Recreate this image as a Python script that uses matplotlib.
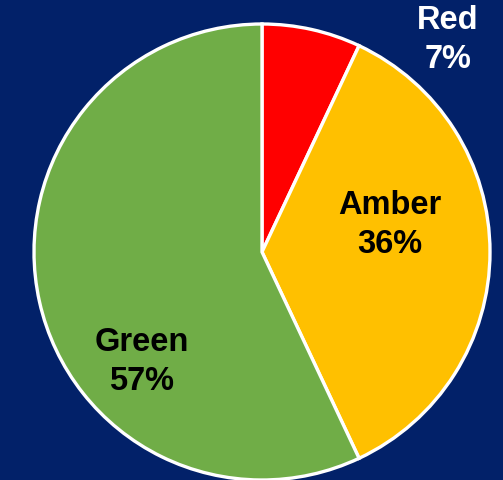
import matplotlib.pyplot as plt

labels = ["Red", "Amber", "Green"]
values = [7, 36, 57]
colors = ["#FF0000", "#FFC000", "#70AD47"]
label_colors = ["white", "black", "black"]

bg = "#022169"
W, H = 503, 481
cx, cy, r = 262, 253, 228

fig = plt.figure(figsize=(W / 100, H / 100), dpi=100, facecolor=bg)
ax = fig.add_axes([0, 0, 1, 1])
ax.set_facecolor(bg)

ax.pie(values, colors=colors, startangle=90, counterclock=False, radius=1,
       wedgeprops=dict(edgecolor="white", linewidth=2.4))

ax.set_xlim(-cx / r, (W - cx) / r)
ax.set_ylim(-(H - cy) / r, cy / r)
ax.set_aspect("equal")
ax.axis("off")

# label positions in pixel space of the picture
label_pos = [(448, 40), (390, 225), (142, 362)]
for lab, v, c, (px, py) in zip(labels, values, label_colors, label_pos):
    ax.text((px - cx) / r, (cy - py) / r, "%s\n%d%%" % (lab, v),
            ha="center", va="center", color=c, fontsize=23.5,
            fontweight="bold", family="Liberation Sans", linespacing=1.3)

fig.savefig("out.png", dpi=100, facecolor=bg)
